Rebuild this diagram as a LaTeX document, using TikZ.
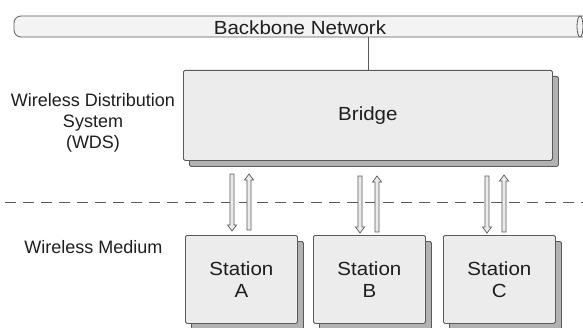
\documentclass[tikz,border=0pt]{standalone}
\usepackage{fontspec}
\setmainfont{Liberation Sans}
\newfontfamily\widefont{Liberation Sans}[FakeStretch=1.08]
\usetikzlibrary{calc,shadows}
\definecolor{facefill}{HTML}{ECECEC}
\definecolor{sidefill}{HTML}{B2B2B2}
\definecolor{edge}{HTML}{5A5A5A}
\definecolor{txt}{HTML}{1E1E1E}
\definecolor{tubefill}{HTML}{F3F3F3}
\newcommand\blockarrow[2]{%
  \path[blockar] let \p1=(#1), \p2=(#2), \n1={(\y2>\y1)?1:-1} in
    (\x1-2pt,\y1) -- (\x1-2pt,\y2-\n1*6pt) -- (\x1-4.5pt,\y2-\n1*6pt) -- (\x2,\y2)
    -- (\x1+4.5pt,\y2-\n1*6pt) -- (\x1+2pt,\y2-\n1*6pt) -- (\x1+2pt,\y1) -- cycle;}
\begin{document}
\begin{tikzpicture}[x=1pt,y=1pt,
  lbl/.style={font=\fontsize{18}{21}\selectfont, text=txt, align=center, inner sep=0pt},
  widelbl/.style={font=\widefont\fontsize{19}{22}\selectfont, text=txt, align=center, inner sep=0pt},
  box3d/.style={draw=edge, fill=facefill, line width=0.8pt, rounded corners=1.5pt,
     inner sep=0pt, anchor=north west, font=\widefont\fontsize{19}{22}\selectfont, text=txt, align=center,
     general shadow={shadow xshift=6pt, shadow yshift=-6pt, fill=sidefill, draw=edge, line width=0.8pt}},
  tube/.style={draw=edge, fill=tubefill, line width=0.8pt, rounded corners=7pt, inner sep=0pt},
  conn/.style={draw=edge, line width=0.8pt},
  blockar/.style={draw=edge, fill=facefill, line width=0.7pt},
  sep/.style={draw=edge, line width=0.8pt, dash pattern=on 11pt off 7pt}]
\useasboundingbox (0,0) rectangle (583,327);
\fill[white] (0,0) rectangle (583,327);
% backbone
\node[tube, minimum width=586pt, minimum height=21pt] (tube) at (307,300.5) {};
\draw[conn, fill=tubefill] (580,300.5) ellipse [x radius=3, y radius=10.5];
\node[widelbl] (bbtext) at (300,299.5) {Backbone Network};
% bridge
\node[box3d, minimum width=369pt, minimum height=90pt] (bridge) at (183,257) {Bridge};
\draw[conn] (tube.south -| bridge.north) -- (bridge.north);
% labels
\node[lbl] (wds) at (93,204) {Wireless Distribution\\System\\(WDS)};
\node[lbl] (wm) at (93.5,80) {Wireless Medium};
% separator
\coordinate (dl) at (5,125);
\coordinate (dr) at (583,125);
\draw[sep] (dl) -- (dr);
% stations
\node[box3d, minimum width=112pt, minimum height=88pt] (sa) at (185,92) {Station\\A};
\node[box3d, minimum width=112pt, minimum height=88pt] (sb) at (313,92) {Station\\B};
\node[box3d, minimum width=112pt, minimum height=88pt] (sc) at (443,92) {Station\\C};
% arrows
\coordinate (a1t) at (232,153); \coordinate (a1b) at (232,96);
\coordinate (a2t) at (249,153); \coordinate (a2b) at (249,97);
\coordinate (b1t) at (360,151); \coordinate (b1b) at (360,94);
\coordinate (b2t) at (377,151); \coordinate (b2b) at (377,95);
\coordinate (c1t) at (487,151); \coordinate (c1b) at (487,94);
\coordinate (c2t) at (504,152); \coordinate (c2b) at (504,95);
\blockarrow{a1t}{a1b}
\blockarrow{a2b}{a2t}
\blockarrow{b1t}{b1b}
\blockarrow{b2b}{b2t}
\blockarrow{c1t}{c1b}
\blockarrow{c2b}{c2t}
\end{tikzpicture}
\end{document}
